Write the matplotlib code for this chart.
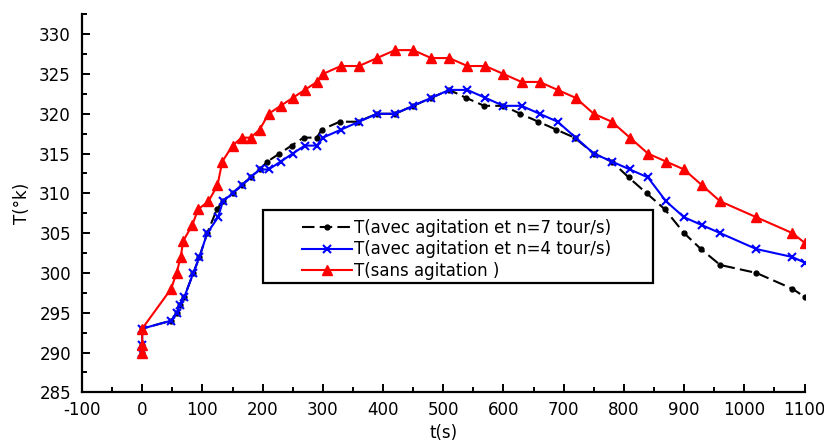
import matplotlib
matplotlib.use("Agg")
import matplotlib.pyplot as plt
from matplotlib.patches import Rectangle
from matplotlib.ticker import MultipleLocator

plt.rcParams['font.family'] = ['DejaVu Sans']
plt.rcParams['axes.unicode_minus'] = False

# temps (s) et températures (°K)
t_n7 = [0, 0, 0, 48, 58, 62, 70, 85, 95, 108, 124, 134, 150, 165, 180, 195, 208, 228, 248,
        268, 290, 298, 328, 358, 390, 420, 450, 480, 510, 538, 568, 600, 628, 658, 688, 718,
        750, 780, 808, 838, 868, 900, 928, 960, 1020, 1080, 1100]
T_n7 = [290, 291, 293, 294, 295, 296, 297, 300, 302, 305, 308, 309, 310, 311, 312, 313, 314,
        315, 316, 317, 317, 318, 319, 319, 320, 320, 321, 322, 323, 322, 321, 321, 320, 319,
        318, 317, 315, 314, 312, 310, 308, 305, 303, 301, 300, 298, 297]

t_n4 = [0, 0, 0, 48, 58, 62, 70, 85, 95, 108, 126, 134, 150, 165, 180, 195, 210, 230, 250,
        270, 290, 300, 330, 360, 390, 420, 450, 480, 510, 540, 570, 600, 630, 660, 690, 720,
        750, 780, 810, 840, 870, 900, 930, 960, 1020, 1080, 1100]
T_n4 = [290, 291, 293, 294, 295, 296, 297, 300, 302, 305, 307, 309, 310, 311, 312, 313, 313,
        314, 315, 316, 316, 317, 318, 319, 320, 320, 321, 322, 323, 323, 322, 321, 321, 320,
        319, 317, 315, 314, 313, 312, 309, 307, 306, 305, 303, 302, 301.3]

t_sans = [0, 0, 0, 48, 57, 64, 68, 83, 93, 110, 125, 133, 150, 165, 180, 195, 210, 230, 250,
          270, 290, 300, 330, 360, 390, 420, 450, 480, 510, 540, 570, 600, 630, 660, 690, 720,
          750, 780, 810, 840, 870, 900, 930, 960, 1020, 1080, 1100]
T_sans = [290, 291, 293, 298, 300, 302, 304, 306, 308, 309, 311, 314, 316, 317, 317, 318, 320,
          321, 322, 323, 324, 325, 326, 326, 327, 328, 328, 327, 327, 326, 326, 325, 324, 324,
          323, 322, 320, 319, 317, 315, 314, 313, 311, 309, 307, 305, 303.8]

labels = ["T(avec agitation et n=7 tour/s)",
          "T(avec agitation et n=4 tour/s)",
          "T(sans agitation )"]

W, H = 824, 443
fig = plt.figure(figsize=(W / 100, H / 100), dpi=100)
ax = fig.add_axes([82 / W, 1 - 392.3 / H, (804.5 - 82) / W, (392.3 - 14.3) / H])

ax.plot(t_n7, T_n7, color='black', ls=(0, (6, 2.5)), lw=1.5, marker='o', ms=3.5,
        label=labels[0], zorder=2)
ax.plot(t_n4, T_n4, color='blue', lw=1.5, marker='x', ms=6, mew=1.5,
        label=labels[1], zorder=3)
ax.plot(t_sans, T_sans, color='red', lw=1.5, marker='^', ms=7,
        label=labels[2], zorder=4)

ax.set_xlim(-100, 1100)
ax.set_ylim(285, 332.5)
ax.xaxis.set_major_locator(MultipleLocator(100))
ax.xaxis.set_minor_locator(MultipleLocator(50))
ax.yaxis.set_major_locator(MultipleLocator(5))
ax.yaxis.set_minor_locator(MultipleLocator(2.5))

for s in ['top', 'right']:
    ax.spines[s].set_visible(False)
for s in ['left', 'bottom']:
    ax.spines[s].set_linewidth(1.6)
ax.tick_params(which='major', direction='in', length=6, width=1.4, labelsize=12)
ax.tick_params(which='minor', direction='in', length=3.5, width=1.4)
ax.tick_params(axis='x', which='major', pad=6)
ax.tick_params(axis='y', which='major', pad=8)

ax.set_xlabel("t(s)", fontsize=12, labelpad=4)
ax.set_ylabel("T(°k)", fontsize=12, labelpad=6)

# cadre de la légende (plus large que le texte, comme sur l'original)
fig.patches.append(Rectangle((263 / W, 1 - 283 / H), (653 - 263) / W, (283 - 210) / H,
                             transform=fig.transFigure, fill=True, facecolor='white',
                             edgecolor='black', lw=1.6, zorder=5))
leg = fig.legend(*ax.get_legend_handles_labels(), loc='upper left',
                 bbox_to_anchor=(302 / W, 1 - 219 / H), fontsize=12, frameon=False,
                 handlelength=3.0, handletextpad=0.15, borderpad=0, labelspacing=0.2,
                 borderaxespad=0)
leg.set_zorder(6)

fig.savefig("out.png", dpi=100)
